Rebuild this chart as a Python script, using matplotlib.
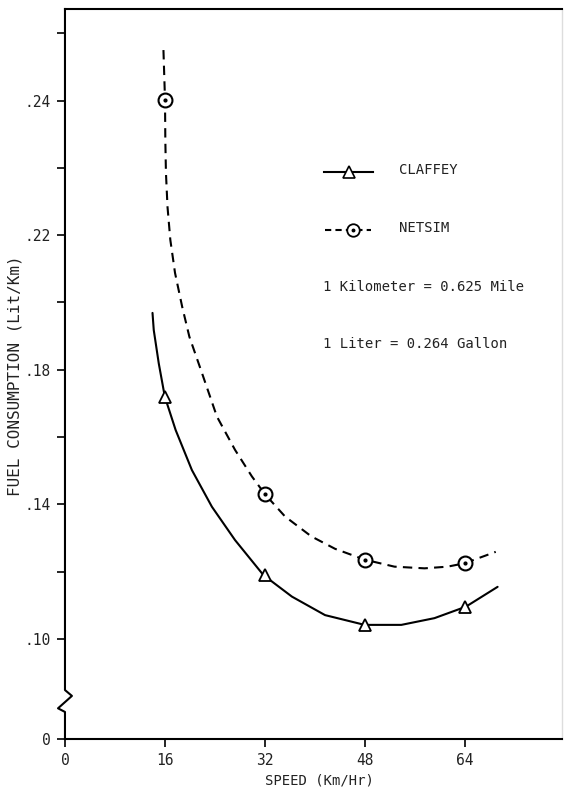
import matplotlib.pyplot as plt

# measured points
speed = [16, 32, 48, 64]
claffey = [0.172, 0.119, 0.1042, 0.1096]
netsim = [0.2602, 0.143, 0.1236, 0.1225]

# fitted curves
claffey_curve_x = [14.0, 14.2, 15.0, 15.97, 17.7, 20.3, 23.5, 27.2, 31.74, 36.3, 41.6,
                   47.93, 53.8, 59.1, 64.12, 69.2]
claffey_curve_y = [0.1969, 0.1918, 0.1819, 0.1720, 0.1621, 0.1502, 0.1393, 0.1294, 0.1190,
                   0.1126, 0.1071, 0.1042, 0.1042, 0.1062, 0.1096, 0.1155]
netsim_curve_x = [15.75, 16.0, 16.05, 16.15, 16.4, 16.85, 17.6, 18.75, 19.9, 21.9, 24.3,
                  27.2, 29.9, 32.0, 35.2, 39.4, 43.2, 47.9, 52.7, 57.5, 61.2, 63.9, 68.9]
netsim_curve_y = [0.2750, 0.2602, 0.2483, 0.2385, 0.2284, 0.2186, 0.2088, 0.1987, 0.1898,
                  0.1791, 0.1661, 0.1562, 0.1483, 0.1430, 0.1364, 0.1305, 0.1268, 0.1236,
                  0.1215, 0.1210, 0.1215, 0.1225, 0.1259]

# axis ticks (the axis is broken between 0 and .10)
x_ticks = [0, 16, 32, 48, 64]
y_ticks = [0.0703, 0.10, 0.12, 0.14, 0.16, 0.18, 0.20, 0.22, 0.24, 0.26, 0.28]
y_labels = ['0', '.10', '', '.14', '', '.18', '', '.22', '', '.24', '']

plt.rcParams['font.family'] = ['DejaVu Sans Mono']
ink = '#222222'

fig = plt.figure(figsize=(5.69, 7.90), dpi=100)
ax = fig.add_axes([0.1142, 0.0646, 0.8735, 0.924])

# curves
ax.plot(claffey_curve_x, claffey_curve_y, color='black', lw=1.5,
        solid_joinstyle='round', solid_capstyle='round')
ax.plot(netsim_curve_x, netsim_curve_y, color='black', lw=1.5, dashes=(4.5, 3),
        dash_joinstyle='round')

# markers
ax.plot(speed, claffey, ls='none', marker='^', ms=9, mfc='white', mec='black', mew=1.3)
ax.plot(speed, netsim, ls='none', marker='o', ms=10, mfc='white', mec='black', mew=1.5)
ax.plot(speed, netsim, ls='none', marker='o', ms=2, color='black')

ax.set_xlim(0, 79.5)
ax.set_ylim(0.0703, 0.2872)
ax.set_xticks(x_ticks)
ax.set_xticklabels([str(t) for t in x_ticks])
ax.set_yticks(y_ticks)
ax.set_yticklabels(y_labels)
ax.tick_params(direction='out', length=6, width=1.2, labelsize=10.5, colors='black',
               labelcolor=ink, pad=4)

# spines, left one drawn by hand with the break
ax.spines['left'].set_visible(False)
ax.spines['bottom'].set_linewidth(1.5)
ax.spines['top'].set_linewidth(1.5)
ax.spines['right'].set_color('#dddddd')
ax.spines['right'].set_linewidth(1)
ax.plot([0, 0, -0.014, 0.014, 0, 0], [0, 0.037, 0.042, 0.059, 0.067, 1],
        transform=ax.transAxes, color='black', lw=1.5, clip_on=False)

# legend and notes
ax.plot([41.4, 49.3], [0.2388, 0.2388], color='black', lw=1.5)
ax.plot([45.4], [0.2388], marker='^', ms=8, mfc='white', mec='black', mew=1.2)
ax.plot([41.6, 49.0], [0.2216, 0.2216], color='black', lw=1.5, dashes=(3, 2))
ax.plot([46.1], [0.2216], marker='o', ms=9, mfc='white', mec='black', mew=1.3)
ax.plot([46.1], [0.2216], marker='o', ms=1.8, color='black')
ax.text(53.4, 0.2394, 'CLAFFEY', fontsize=10, color=ink, va='center')
ax.text(53.4, 0.2222, 'NETSIM', fontsize=10, color=ink, va='center')
ax.text(41.3, 0.2046, '1 Kilometer = 0.625 Mile', fontsize=10, color=ink, va='center')
ax.text(41.3, 0.1877, '1 Liter = 0.264 Gallon', fontsize=10, color=ink, va='center')

fig.text(0.562, 0.012, 'SPEED (Km/Hr)', fontsize=10, color=ink, ha='center', va='center')
fig.text(0.026, 0.524, 'FUEL CONSUMPTION (Lit/Km)', fontsize=11.5, color=ink,
         ha='center', va='center', rotation=90)

fig.savefig('out.png', dpi=100)
